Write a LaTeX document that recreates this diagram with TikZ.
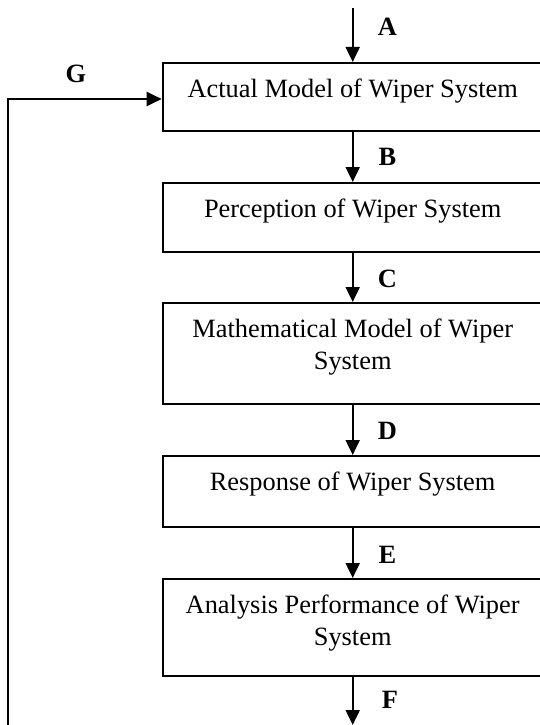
\documentclass[tikz,border=0pt]{standalone}
\usepackage{fontspec}
\setmainfont{Liberation Serif}
\usetikzlibrary{arrows.meta}
\tikzset{
  box/.style={draw, line width=2pt, minimum width=380pt, inner sep=0pt, anchor=north},
  txt/.style={inner sep=0pt, anchor=base, align=center, font=\fontsize{26.4}{32}\selectfont},
  lab/.style={inner sep=0pt, anchor=base, font=\fontsize{26.4}{32}\selectfont\bfseries},
  arr/.style={line width=2pt, -{Triangle[length=15pt,width=14pt]}}
}
\begin{document}
\begin{tikzpicture}[x=1pt,y=-1pt]
\useasboundingbox (0,0) rectangle (539,725);
\node[box, minimum height=68pt] (b1) at (352.7,62) {};
\node[box, minimum height=69pt] (b2) at (352.7,182) {};
\node[box, minimum height=101pt] (b3) at (352.7,302) {};
\node[box, minimum height=70.5pt] (b4) at (352.7,455) {};
\node[box, minimum height=97pt] (b5) at (352.7,578) {};
\node[txt] (t1) at (352.7,97) {Actual Model of Wiper System};
\node[txt] (t2) at (352.7,217) {Perception of Wiper System};
\node[txt] (t3a) at (352.7,337) {Mathematical Model of Wiper};
\node[txt] (t3b) at (352.7,369) {System};
\node[txt] (t4) at (352.7,490) {Response of Wiper System};
\node[txt] (t5a) at (352.7,613) {Analysis Performance of Wiper};
\node[txt] (t5b) at (352.7,645) {System};
\node[lab] (lA) at (387.5,36) {A};
\node[lab] (lB) at (387.5,165) {B};
\node[lab] (lC) at (387.5,287) {C};
\node[lab] (lD) at (387.5,439) {D};
\node[lab] (lE) at (387.5,563) {E};
\node[lab] (lF) at (390,708) {F};
\node[lab] (lG) at (76,82) {G};
\coordinate (top) at (352.7,8);
\coordinate (bot) at (352.7,725);
\coordinate (fb) at (8,726);
\draw[arr] (top) -- (b1.north);
\draw[arr] (b1.south) -- (b2.north);
\draw[arr] (b2.south) -- (b3.north);
\draw[arr] (b3.south) -- (b4.north);
\draw[arr] (b4.south) -- (b5.north);
\draw[arr] (b5.south) -- (bot);
\draw[arr] (fb) |- ([yshift=-2pt]b1.west);
\end{tikzpicture}
\end{document}
